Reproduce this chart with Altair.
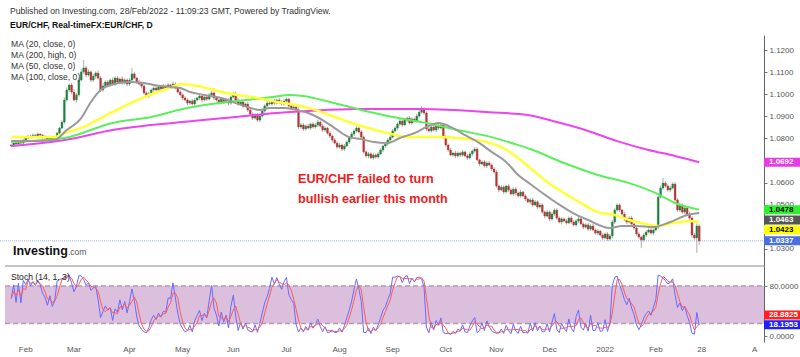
import altair as alt
import pandas as pd
import numpy as np

# ---------------- data ----------------
# bar index: 0 = 1 Feb 2021 (trading days, weekends skipped)
FIRST_BAR = -6
FIRST_OPEN = 1.0766
CLOSE = [
    1.0770, 1.0779, 1.0775, 1.0788, 1.0779, 1.0793, 1.0802, 1.0811, 1.0806, 1.0815,
    1.0811, 1.0820, 1.0815, 1.0806, 1.0802, 1.0797, 1.0806, 1.0797, 1.0802, 1.0824,
    1.0847, 1.0874, 1.0974, 1.1019, 1.1042, 1.1010, 1.0974, 1.0997, 1.1064, 1.1101,
    1.1119, 1.1087, 1.1101, 1.1064, 1.1082, 1.1096, 1.1073, 1.1019, 1.1037, 1.1055,
    1.1042, 1.1064, 1.1046, 1.1073, 1.1055, 1.1069, 1.1051, 1.1064, 1.1046, 1.1064,
    1.1092, 1.1073, 1.1055, 1.1046, 1.1037, 1.1006, 1.0992, 1.1001, 1.1019, 1.1028,
    1.1019, 1.1033, 1.1024, 1.1037, 1.1028, 1.1042, 1.1033, 1.1046, 1.1028, 1.1010,
    1.0997, 1.0983, 1.0974, 1.0960, 1.0969, 1.0956, 1.0974, 1.0983, 1.0992, 1.0974,
    1.0987, 1.0978, 1.0997, 1.1006, 1.0983, 1.0974, 1.0960, 1.0978, 1.0965, 1.0974,
    1.0960, 1.0987, 1.1001, 1.0974, 1.0956, 1.0965, 1.0947, 1.0956, 1.0929, 1.0910,
    1.0892, 1.0906, 1.0883, 1.0901, 1.0924, 1.0947, 1.0960, 1.0956, 1.0969, 1.0960,
    1.0974, 1.0965, 1.0956, 1.0969, 1.0978, 1.0947, 1.0938, 1.0942, 1.0929, 1.0852,
    1.0861, 1.0843, 1.0856, 1.0847, 1.0865, 1.0852, 1.0861, 1.0874, 1.0856, 1.0838,
    1.0847, 1.0824, 1.0811, 1.0793, 1.0779, 1.0761, 1.0770, 1.0752, 1.0766, 1.0784,
    1.0802, 1.0820, 1.0834, 1.0847, 1.0829, 1.0806, 1.0739, 1.0721, 1.0730, 1.0712,
    1.0725, 1.0716, 1.0730, 1.0748, 1.0766, 1.0775, 1.0793, 1.0806, 1.0834, 1.0847,
    1.0865, 1.0879, 1.0861, 1.0883, 1.0892, 1.0870, 1.0888, 1.0879, 1.0901, 1.0919,
    1.0933, 1.0915, 1.0843, 1.0834, 1.0852, 1.0838, 1.0856, 1.0847, 1.0861, 1.0806,
    1.0770, 1.0748, 1.0725, 1.0734, 1.0721, 1.0734, 1.0725, 1.0739, 1.0721, 1.0712,
    1.0730, 1.0743, 1.0752, 1.0703, 1.0685, 1.0694, 1.0676, 1.0689, 1.0680, 1.0662,
    1.0648, 1.0585, 1.0567, 1.0580, 1.0558, 1.0585, 1.0567, 1.0549, 1.0571, 1.0553,
    1.0540, 1.0558, 1.0540, 1.0526, 1.0513, 1.0522, 1.0499, 1.0513, 1.0490, 1.0499,
    1.0467, 1.0449, 1.0467, 1.0436, 1.0458, 1.0476, 1.0440, 1.0422, 1.0436, 1.0427,
    1.0418, 1.0440, 1.0422, 1.0409, 1.0427, 1.0436, 1.0413, 1.0399, 1.0409, 1.0390,
    1.0404, 1.0386, 1.0372, 1.0381, 1.0363, 1.0350, 1.0368, 1.0345, 1.0359, 1.0422,
    1.0476, 1.0499, 1.0476, 1.0458, 1.0436, 1.0422, 1.0440, 1.0413, 1.0395, 1.0368,
    1.0354, 1.0341, 1.0363, 1.0377, 1.0386, 1.0372, 1.0386, 1.0399, 1.0535, 1.0576,
    1.0598, 1.0585, 1.0567, 1.0576, 1.0594, 1.0522, 1.0476, 1.0499, 1.0467, 1.0485,
    1.0458, 1.0440, 1.0363, 1.0350, 1.0404, 1.0337,
]
# wick lengths above / below the candle body, in pips
WICK_HI = [
    6, 4, 8, 5, 7, 4, 9, 5, 6, 8, 5, 7, 4, 6, 9, 5, 7, 6, 8, 5,
    6, 8, 12, 10, 7, 9, 14, 8, 10, 12, 36, 9, 11, 7, 10, 8, 12, 9, 14, 8,
    9, 7, 11, 8, 10, 6, 12, 9, 8, 10, 27, 9, 7, 11, 8, 10, 6, 9, 7, 8,
    9, 6, 8, 10, 7, 9, 6, 11, 8, 7, 10, 6, 9, 8, 7, 10, 8, 6, 9, 7,
    8, 10, 7, 9, 22, 8, 7, 9, 6, 10, 8, 7, 9, 11, 8, 6, 9, 7, 10, 8,
    7, 9, 8, 6, 10, 7, 9, 8, 6, 9, 7, 10, 8, 9, 7, 6, 10, 8, 9, 11,
    8, 9, 7, 10, 6, 9, 8, 11, 7, 9, 8, 6, 10, 7, 9, 8, 10, 7, 9, 6,
    8, 9, 7, 10, 8, 9, 7, 6, 9, 8, 10, 7, 9, 8, 6, 9, 7, 10, 8, 9,
    7, 9, 8, 10, 6, 9, 8, 7, 10, 9, 14, 8, 7, 9, 6, 10, 8, 9, 7, 8,
    9, 7, 8, 6, 10, 8, 7, 9, 6, 8, 10, 7, 9, 8, 6, 7, 9, 8, 10, 7,
    8, 9, 7, 10, 8, 6, 9, 7, 8, 10, 7, 9, 6, 8, 7, 9, 10, 8, 7, 9,
    8, 7, 9, 6, 10, 8, 9, 7, 8, 6, 9, 7, 10, 8, 7, 9, 6, 8, 7, 9,
    8, 10, 7, 9, 6, 8, 7, 9, 8, 10, 9, 7, 8, 6, 9, 7, 8, 10, 7, 9,
    8, 6, 9, 7, 8, 10, 7, 9, 6, 12, 23, 9, 8, 10, 7, 9, 8, 11, 7, 9,
    8, 10, 7, 9, 12, 8,
]
WICK_LO = [
    5, 8, 4, 7, 6, 9, 5, 7, 4, 6, 8, 5, 7, 9, 4, 6, 5, 8, 6, 7,
    7, 5, 9, 6, 8, 10, 7, 12, 8, 6, 9, 11, 7, 10, 8, 12, 6, 9, 7, 10,
    8, 10, 7, 9, 6, 11, 8, 7, 10, 9, 8, 6, 9, 7, 10, 8, 7, 9, 6, 8,
    7, 9, 8, 6, 10, 7, 8, 9, 6, 8, 7, 10, 6, 9, 8, 7, 9, 6, 8, 10,
    7, 9, 6, 8, 10, 7, 8, 6, 9, 7, 10, 8, 6, 9, 7, 8, 10, 6, 9, 8,
    9, 7, 8, 10, 6, 8, 9, 7, 10, 8, 6, 9, 7, 8, 10, 7, 9, 6, 8, 9,
    7, 10, 8, 6, 9, 7, 8, 10, 6, 9, 8, 7, 9, 10, 6, 8, 7, 9, 8, 6,
    9, 7, 10, 8, 6, 9, 7, 8, 10, 6, 9, 7, 8, 6, 10, 8, 7, 9, 6, 8,
    10, 7, 9, 6, 8, 7, 9, 8, 6, 10, 7, 8, 9, 6, 8, 7, 10, 9, 6, 8,
    7, 9, 6, 8, 10, 7, 9, 8, 6, 9, 7, 10, 8, 6, 9, 7, 8, 10, 6, 9,
    7, 8, 10, 6, 9, 7, 8, 6, 9, 10, 7, 8, 6, 9, 7, 10, 8, 6, 9, 7,
    8, 10, 6, 9, 7, 8, 9, 6, 10, 7, 8, 6, 9, 7, 8, 10, 6, 9, 7, 8,
    9, 6, 8, 10, 7, 9, 6, 8, 7, 10, 9, 6, 8, 7, 9, 10, 6, 8, 7, 9,
    8, 36, 7, 9, 6, 8, 10, 7, 9, 6, 8, 7, 9, 10, 6, 8, 7, 9, 8, 10,
    9, 7, 12, 8, 68, 19,
]

# moving averages (bar index, value)
MA20_IDX = [-6, 4, 12, 17, 23, 27, 31, 35, 43, 49, 53, 60, 64, 68, 74, 81, 87, 93, 97, 101,
            107, 112, 117, 123, 128, 134, 139, 144, 150, 155, 162, 166, 171, 177, 182, 188, 193, 199, 204, 209,
            220, 226, 233, 242, 247, 253, 260, 267, 274, 279]
MA20_VAL = [1.0788, 1.0788, 1.0793, 1.0838, 1.0892, 1.0965, 1.1019, 1.1042, 1.1055, 1.1051,
            1.1042, 1.1033, 1.1028, 1.1010, 1.0997, 1.0983, 1.0960, 1.0938, 1.0929, 1.0938,
            1.0938, 1.0929, 1.0915, 1.0883, 1.0847, 1.0806, 1.0797, 1.0784, 1.0779, 1.0802,
            1.0829, 1.0852, 1.0870, 1.0847, 1.0815, 1.0779, 1.0739, 1.0694, 1.0635, 1.0594,
            1.0508, 1.0467, 1.0431, 1.0395, 1.0404, 1.0404, 1.0399, 1.0422, 1.0454, 1.0463]
MA50_IDX = [-6, 12, 16, 24, 32, 40, 49, 57, 65, 71, 83, 96, 104, 112, 120, 128, 139, 150, 159, 171,
            179, 191, 200, 204, 209, 216, 223, 230, 237, 244, 250, 257, 262, 268, 275, 279]
MA50_VAL = [1.0806, 1.0806, 1.0824, 1.0852, 1.0897, 1.0942, 1.0987, 1.1019, 1.1046, 1.1037,
            1.1006, 1.0983, 1.0965, 1.0951, 1.0929, 1.0897, 1.0856, 1.0824, 1.0806, 1.0806,
            1.0802, 1.0784, 1.0743, 1.0712, 1.0666, 1.0603, 1.0553, 1.0508, 1.0467, 1.0454,
            1.0431, 1.0413, 1.0404, 1.0418, 1.0427, 1.0423]
MA100_IDX = [-6, 16, 36, 52, 65, 80, 95, 102, 109, 115, 126, 139, 152, 166, 179, 193, 204, 209,
             223, 237, 250, 261, 269, 279]
MA100_VAL = [1.0784, 1.0802, 1.0870, 1.0897, 1.0933, 1.0960, 1.0978, 1.0987, 1.0997, 1.0992,
             1.0965, 1.0929, 1.0897, 1.0870, 1.0838, 1.0806, 1.0770, 1.0752, 1.0689, 1.0635,
             1.0598, 1.0553, 1.0508, 1.0478]
MA200_IDX = [-6, 16, 36, 65, 87, 104, 117, 137, 164, 192, 208, 220, 233, 245, 258, 269, 279]
MA200_VAL = [1.0766, 1.0793, 1.0838, 1.0874, 1.0897, 1.0915, 1.0924, 1.0933, 1.0933, 1.0919,
             1.0906, 1.0874, 1.0834, 1.0788, 1.0748, 1.0721, 1.0692]

MONTH_TICKS = [0, 20, 43, 65, 86, 108, 130, 152, 174, 195, 217, 240, 261, 280, 302]
MONTH_LABELS = ["Feb", "Mar", "Apr", "May", "Jun", "Jul", "Aug", "Sep", "Oct", "Nov", "Dec",
                "2022", "Feb", "28", "A"]
PRICE_TICKS = [1.03, 1.05, 1.06, 1.08, 1.09, 1.10, 1.11, 1.12]
STOCH_TICKS = [0, 80]
STOCH_BAND = [20, 80]
LAST_PRICE = 1.0337
PRICE_TAGS = [1.0692, 1.0478, 1.0463, 1.0423, 1.0337]
STOCH_TAGS = [28.8825, 18.1953]

# ---------------- styling / layout ----------------
W, H = 764, 342
X_DOMAIN = [-8.585, 303.76]
PRICE_DOMAIN = [1.02231, 1.12679]
PRICE_RANGE = [266, 35]
STOCH_DOMAIN = [-9.6, 112]
STOCH_RANGE = [342, 266]
FONT = "Liberation Sans"
UP, DOWN = "#1f8040", "#b33636"
UP_WICK, DOWN_WICK = "#a6b3a8", "#b8a8a8"
TAG_STYLE = {  # value: (fill, text colour, pixel shift)
    1.0692: ("#e63ce6", "white", 0),
    1.0478: ("#2ef02e", "black", 0),
    1.0463: ("#555555", "white", 7),
    1.0423: ("#ffff00", "black", 8),
    1.0337: ("#4a6fe3", "white", 0),
}
STOCH_TAG_STYLE = {28.8825: ("#ff2020", "white", -3), 18.1953: ("#1f1fff", "white", 0)}

n = len(CLOSE)
assert len(WICK_HI) == n and len(WICK_LO) == n, (n, len(WICK_HI), len(WICK_LO))
opens = [FIRST_OPEN] + CLOSE[:-1]
df = pd.DataFrame({
    "idx": list(range(FIRST_BAR, FIRST_BAR + n)),
    "open": opens,
    "close": CLOSE,
})
df["high"] = np.maximum(df["open"], df["close"]) + np.array(WICK_HI) / 10000.0
df["low"] = np.minimum(df["open"], df["close"]) - np.array(WICK_LO) / 10000.0
hh = df["high"].rolling(14, min_periods=1).max()
ll = df["low"].rolling(14, min_periods=1).min()
df["k"] = 100 * (df["close"] - ll) / (hh - ll)
df["d"] = df["k"].rolling(3, min_periods=1).mean()
up = df[df["close"] >= df["open"]]
down = df[df["close"] < df["open"]]


def X(field="idx", axis=None):
    return alt.X(f"{field}:Q", scale=alt.Scale(domain=X_DOMAIN, nice=False, zero=False), axis=axis)


def YP(field, axis=None):
    return alt.Y(f"{field}:Q", scale=alt.Scale(domain=PRICE_DOMAIN, range=PRICE_RANGE, nice=False, zero=False), axis=axis)


def YS(field, axis=None):
    return alt.Y(f"{field}:Q", scale=alt.Scale(domain=STOCH_DOMAIN, range=STOCH_RANGE, nice=False, zero=False), axis=axis)


x_axis = alt.Axis(labels=False, ticks=False, domain=True, domainColor="#777", grid=False, title=None)
price_axis = alt.Axis(orient="right", values=PRICE_TICKS, format=".4f", labelFontSize=8, labelColor="#555",
                      labelFont=FONT, tickSize=3, tickColor="#777", domainColor="#666", labelPadding=2,
                      grid=False, title=None, labelOverlap=False, labelFlush=False)
stoch_axis = alt.Axis(orient="right", values=STOCH_TICKS, format=".4f", labelFontSize=8, labelColor="#555",
                      labelFont=FONT, tickSize=3, tickColor="#777", domainColor="#666", labelPadding=2,
                      grid=False, title=None, labelOverlap=False, labelFlush=False)


def text(txt, x, y, size=8, color="#333", weight="normal", align="left"):
    return alt.Chart(pd.DataFrame({"t": [txt]})).mark_text(
        align=align, baseline="alphabetic", fontSize=size, color=color, fontWeight=weight, font=FONT
    ).encode(x=alt.value(x), y=alt.value(y), text="t:N")


layers = []

# stochastic pane
band = pd.DataFrame({"lo": [STOCH_BAND[0]], "hi": [STOCH_BAND[1]]})
layers.append(alt.Chart(band).mark_rect(color="#dcbfdc").encode(
    x=alt.value(5), x2=alt.value(W), y=YS("lo", stoch_axis), y2="hi:Q"))
lv = pd.DataFrame({"lvl": STOCH_BAND})
layers.append(alt.Chart(lv).mark_rule(color="#ae9cae", strokeDash=[5, 3], strokeWidth=1.5).encode(
    x=alt.value(5), x2=alt.value(W), y=YS("lvl")))
top = pd.DataFrame({"v": [STOCH_DOMAIN[1]]})
layers.append(alt.Chart(top).mark_rule(color="#888", strokeWidth=1).encode(
    x=alt.value(5), x2=alt.value(W), y=YS("v")))
layers.append(alt.Chart(df).mark_line(color="#6a6aff", strokeWidth=1).encode(x=X(), y=YS("k")))
layers.append(alt.Chart(df).mark_line(color="#ff5a5a", strokeWidth=1).encode(x=X(), y=YS("d")))

# last price dotted line
lp = pd.DataFrame({"p": [LAST_PRICE]})
layers.append(alt.Chart(lp).mark_rule(color="#9bb0ee", strokeDash=[1, 1], strokeWidth=1).encode(
    x=alt.value(0), x2=alt.value(W), y=YP("p")))

# candles
layers.append(alt.Chart(up).mark_rule(color=UP_WICK, strokeWidth=1).encode(
    x=X("idx", x_axis), y=YP("low"), y2="high:Q"))
layers.append(alt.Chart(down).mark_rule(color=DOWN_WICK, strokeWidth=1).encode(
    x=X(), y=YP("low"), y2="high:Q"))
layers.append(alt.Chart(up).mark_bar(size=1.9, color=UP, stroke=UP, strokeWidth=0.3).encode(
    x=X(), y=YP("open", price_axis), y2="close:Q"))
layers.append(alt.Chart(down).mark_bar(size=1.9, color=DOWN, stroke=DOWN, strokeWidth=0.3).encode(
    x=X(), y=YP("open"), y2="close:Q"))

# moving averages
for ids, vals, col, w in [
    (MA200_IDX, MA200_VAL, "#ee44ee", 2),
    (MA100_IDX, MA100_VAL, "#5cee5c", 2),
    (MA50_IDX, MA50_VAL, "#ffff33", 2.5),
    (MA20_IDX, MA20_VAL, "#9a9a9a", 2),
]:
    m = pd.DataFrame({"idx": ids, "v": vals})
    layers.append(alt.Chart(m).mark_line(color=col, strokeWidth=w, interpolate="monotone").encode(
        x=X(), y=YP("v")))

# price tags on the axis
for v in PRICE_TAGS:
    fill, tc, sh = TAG_STYLE[v]
    d = pd.DataFrame({"v": [v], "t": [f"{v:.4f}"]})
    layers.append(alt.Chart(d).mark_rect(color=fill, yOffset=sh - 4.5, y2Offset=sh + 4.5).encode(
        x=alt.value(W), x2=alt.value(800), y=YP("v"), y2="v:Q"))
    layers.append(alt.Chart(d).mark_text(align="left", baseline="middle", fontSize=8, color=tc,
                                         font=FONT, dy=sh, fontWeight="bold").encode(
        x=alt.value(W + 5), y=YP("v"), text="t:N"))
for v in STOCH_TAGS:
    fill, tc, sh = STOCH_TAG_STYLE[v]
    d = pd.DataFrame({"v": [v], "t": [f"{v:.4f}"]})
    layers.append(alt.Chart(d).mark_rect(color=fill, yOffset=sh - 4.5, y2Offset=sh + 4.5).encode(
        x=alt.value(W), x2=alt.value(800), y=YS("v"), y2="v:Q"))
    layers.append(alt.Chart(d).mark_text(align="left", baseline="middle", fontSize=8, color=tc,
                                         font=FONT, dy=sh, fontWeight="bold").encode(
        x=alt.value(W + 5), y=YS("v"), text="t:N"))

# month labels
months = pd.DataFrame({"idx": MONTH_TICKS, "t": MONTH_LABELS})
layers.append(alt.Chart(months).mark_text(align="center", baseline="alphabetic", fontSize=8,
                                          color="#555", font=FONT).encode(
    x=X(), y=alt.value(352), text="t:N"))

# texts
layers.append(text("Published on Investing.com, 28/Feb/2022 - 11:09:23 GMT, Powered by TradingView.", 10, 13.5, 8.6, "#333"))
layers.append(text("EUR/CHF, Real-timeFX:EUR/CHF, D", 10, 27.5, 8.6, "#111", "bold"))
for t, yy in [("MA (20, close, 0)", 47), ("MA (200, high, 0)", 58), ("MA (50, close, 0)", 69), ("MA (100, close, 0)", 80)]:
    layers.append(text(t, 11, yy, 8.6, "#333"))
layers.append(text("EUR/CHF failed to turn", 298, 183, 12.6, "#ee1c1c", "bold"))
layers.append(text("bullish earlier this month", 298, 203, 12.6, "#ee1c1c", "bold"))
layers.append(text("Investing", 13, 255, 12.5, "#111", 900))
layers.append(text(".com", 68, 255, 8.5, "#555"))
layers.append(text("Stoch (14, 1, 3)", 11, 280, 8.6, "#222"))

chart = alt.layer(*layers).resolve_scale(y="independent").properties(
    width=W, height=H,
    autosize=alt.AutoSizeParams(type="none"),
    padding={"left": 0, "top": 0, "right": 36, "bottom": 15},
    background="white",
).configure_view(stroke=None)

chart.save("out.html", embed_options={"renderer": "svg", "actions": False})
